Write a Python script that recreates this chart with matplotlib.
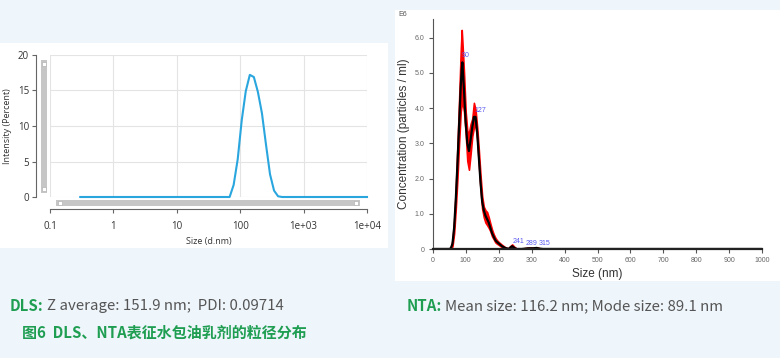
import numpy as np
import matplotlib
matplotlib.use("Agg")
import matplotlib.pyplot as plt
from matplotlib.patches import Rectangle

# DLS intensity distribution (size in d.nm, intensity in %)
dls_size = [0.3, 58.8, 68.1, 78.8, 91.3, 105.7, 122.4, 141.8, 164.2, 190.1,
            220.2, 255.0, 295.3, 342.0, 396.1, 458.7, 10000]
dls_intensity = [0, 0, 0, 1.7, 5.3, 10.8, 14.9, 17.2, 16.9, 14.8,
                 11.8, 7.4, 3.2, 0.9, 0.1, 0, 0]
dls_ticks = [0.1, 1, 10, 100, 1000, 10000]
dls_ticklabels = ["0.1", "1", "10", "100", "1e+03", "1e+04"]

# NTA concentration (size in nm, concentration in E6 particles/ml)
nta_size = [0, 50, 55, 60, 65, 70, 75, 80, 85, 88, 90, 95, 100, 105, 110,
            115, 120, 125, 130, 135, 140, 145, 150, 155, 160, 165, 170, 175,
            180, 185, 190, 195, 200, 210, 220, 230, 235, 241, 248, 255, 270,
            290, 305, 315, 325, 335, 1000]
nta_mean = [0, 0, 0.02, 0.15, 0.6, 1.4, 2.4, 3.5, 4.6, 5.1, 5.3, 4.5, 3.6,
            3.0, 2.78, 3.1, 3.45, 3.75, 3.75, 3.3, 2.6, 1.9, 1.35, 1.1, 0.95,
            0.85, 0.75, 0.6, 0.45, 0.35, 0.25, 0.2, 0.16, 0.08, 0.03, 0.0,
            0.04, 0.08, 0.03, 0, 0, 0.02, 0.02, 0.03, 0.01, 0, 0]
nta_upper = [0, 0, 0.04, 0.25, 0.8, 1.7, 2.9, 4.2, 5.6, 6.22, 5.9, 5.0, 3.9,
             3.35, 3.3, 3.55, 3.7, 4.15, 3.95, 3.45, 2.8, 2.1, 1.5, 1.2, 1.1,
             1.05, 0.9, 0.72, 0.55, 0.42, 0.32, 0.25, 0.2, 0.12, 0.05, 0.02,
             0.08, 0.13, 0.06, 0.01, 0.01, 0.04, 0.04, 0.05, 0.02, 0, 0]
nta_lower = [0, 0, 0, 0.08, 0.45, 1.15, 2.0, 3.0, 3.9, 4.1, 4.2, 3.9, 3.3,
             2.5, 2.25, 2.7, 3.2, 3.45, 3.5, 3.1, 2.4, 1.7, 1.15, 0.9, 0.75,
             0.68, 0.6, 0.5, 0.36, 0.28, 0.19, 0.15, 0.12, 0.05, 0.01, 0,
             0.01, 0.04, 0.01, 0, 0, 0, 0, 0.01, 0, 0, 0]
peak_labels = ["90", "127", "241", "289", "315"]
peak_x = [89, 128, 242, 283, 320]
peak_y = [5.45, 3.88, 0.17, 0.12, 0.12]
nta_yticks = [0, 1, 2, 3, 4, 5, 6]
nta_yticklabels = ["0", "1.0", "2.0", "3.0", "4.0", "5.0", "6.0"]

W, H = 780, 358
GREEN = "#1f9e52"
GRAY_TXT = "#555555"


def rect(x0, y0, x1, y1):
    # pixel box (top-down) -> figure fraction [l, b, w, h]
    return [x0 / W, 1 - y1 / H, (x1 - x0) / W, (y1 - y0) / H]


def box(fig, x0, y0, x1, y1, **kw):
    fig.add_artist(Rectangle((x0 / W, 1 - y1 / H), (x1 - x0) / W, (y1 - y0) / H,
                             transform=fig.transFigure, **kw))


fig = plt.figure(figsize=(W / 100, H / 100), dpi=100)
fig.patch.set_facecolor("#eef5fb")

# white panels
box(fig, 0, 43, 388, 248, facecolor="white", edgecolor="none", zorder=0)
box(fig, 395, 10, 780, 281, facecolor="white", edgecolor="none", zorder=0)

# ---------------- DLS ----------------
ax1 = fig.add_axes(rect(50, 55, 367, 197))
ax1.set_facecolor("none")
ax1.plot(dls_size, dls_intensity, color="#2aa6df", lw=1.5, clip_on=False)
ax1.set_xscale("log")
ax1.set_xlim(0.1, 10000)
ax1.set_ylim(0, 20)
ax1.set_xticks(dls_ticks)
ax1.set_xticklabels(dls_ticklabels)
ax1.minorticks_off()
ax1.set_yticks([0, 5, 10, 15, 20])
ax1.grid(True, color="#e4e4e4", lw=0.8)
for s in ["top", "right"]:
    ax1.spines[s].set_visible(False)
ax1.spines["left"].set_position(("outward", 10))
ax1.spines["bottom"].set_position(("outward", 8.6))
for s in ["left", "bottom"]:
    ax1.spines[s].set_color("#666666")
    ax1.spines[s].set_linewidth(0.8)
ax1.tick_params(colors="#666666", labelcolor="#333333", labelsize=7, length=3, width=0.8)
ax1.tick_params(axis="x", pad=6)
ax1.tick_params(axis="y", pad=2)
for lab in ax1.get_xticklabels() + ax1.get_yticklabels():
    lab.set_family("Open Sans")
ax1.set_xlabel("Size (d.nm)", fontsize=6.5, family="Open Sans", color="#333333", labelpad=3)
fig.text(8 / W, 1 - 126 / H, "Intensity (Percent)", rotation=90, fontsize=6.5,
         family="Open Sans", color="#333333", ha="center", va="center")

# fake scrollbars
box(fig, 41, 60, 47, 193, facecolor="#c6c6c6", edgecolor="none")
box(fig, 42, 62, 46, 66, facecolor="white", edgecolor="#aaaaaa", lw=0.4)
box(fig, 42, 187, 46, 191, facecolor="white", edgecolor="#aaaaaa", lw=0.4)
box(fig, 56, 200, 360, 206, facecolor="#c6c6c6", edgecolor="none")
box(fig, 58, 201, 62, 205, facecolor="white", edgecolor="#aaaaaa", lw=0.4)
box(fig, 354, 201, 358, 205, facecolor="white", edgecolor="#aaaaaa", lw=0.4)

# ---------------- NTA ----------------
ax2 = fig.add_axes(rect(432.7, 19, 762.3, 249))
ax2.fill_between(nta_size, nta_lower, nta_upper, color="#ff0000", lw=1.2, edgecolor="#ff0000")
ax2.plot(nta_size, nta_mean, color="black", lw=1.6)
for t, x, y in zip(peak_labels, peak_x, peak_y):
    ax2.text(x, y, t, fontsize=5, color="#5a5af0", family="Liberation Sans")
ax2.set_xlim(0, 1000)
ax2.set_ylim(0, 6.53)
ax2.set_xticks(range(0, 1001, 100))
ax2.set_yticks(nta_yticks)
ax2.set_yticklabels(nta_yticklabels)
for s in ["top", "right"]:
    ax2.spines[s].set_visible(False)
ax2.spines["left"].set_color("#555555")
ax2.spines["left"].set_linewidth(0.8)
ax2.spines["bottom"].set_color("#222222")
ax2.spines["bottom"].set_linewidth(1.6)
ax2.tick_params(colors="#555555", labelcolor="#666666", labelsize=5, length=3, width=0.8, pad=3)
for lab in ax2.get_xticklabels() + ax2.get_yticklabels():
    lab.set_family("Liberation Sans")
ax2.set_xlabel("Size (nm)", fontsize=8.5, family="Liberation Sans", color="#333333", labelpad=3)
ax2.set_ylabel("Concentration (particles / ml)", fontsize=8.5, family="Liberation Sans",
               color="#333333", labelpad=3)
fig.text(398 / W, 1 - 15 / H, "E6", fontsize=5, color="#555555", family="Liberation Sans", va="center")

# ---------------- captions ----------------
cjk = ["Noto Sans CJK SC", "DejaVu Sans"]
fig.canvas.draw()
r = fig.canvas.get_renderer()


def two_part(x, y, head, rest):
    t = fig.text(x / W, 1 - y / H, head, fontsize=10.8, fontweight="bold", color=GREEN,
                 family=cjk, va="center")
    bb = t.get_window_extent(r)
    fig.text((bb.x1 + 3) / W, 1 - y / H, rest, fontsize=10.8, color=GRAY_TXT,
             family=cjk, va="center")


two_part(10, 306, "DLS:", "Z average: 151.9 nm;  PDI: 0.09714")
two_part(407, 306, "NTA:", "Mean size: 116.2 nm; Mode size: 89.1 nm")
fig.text(22 / W, 1 - 333 / H, "图6  DLS、NTA表征水包油乳剂的粒径分布", fontsize=10.8,
         fontweight="bold", color=GREEN, family=cjk, va="center")

fig.savefig("out.png", dpi=100, facecolor=fig.get_facecolor())
